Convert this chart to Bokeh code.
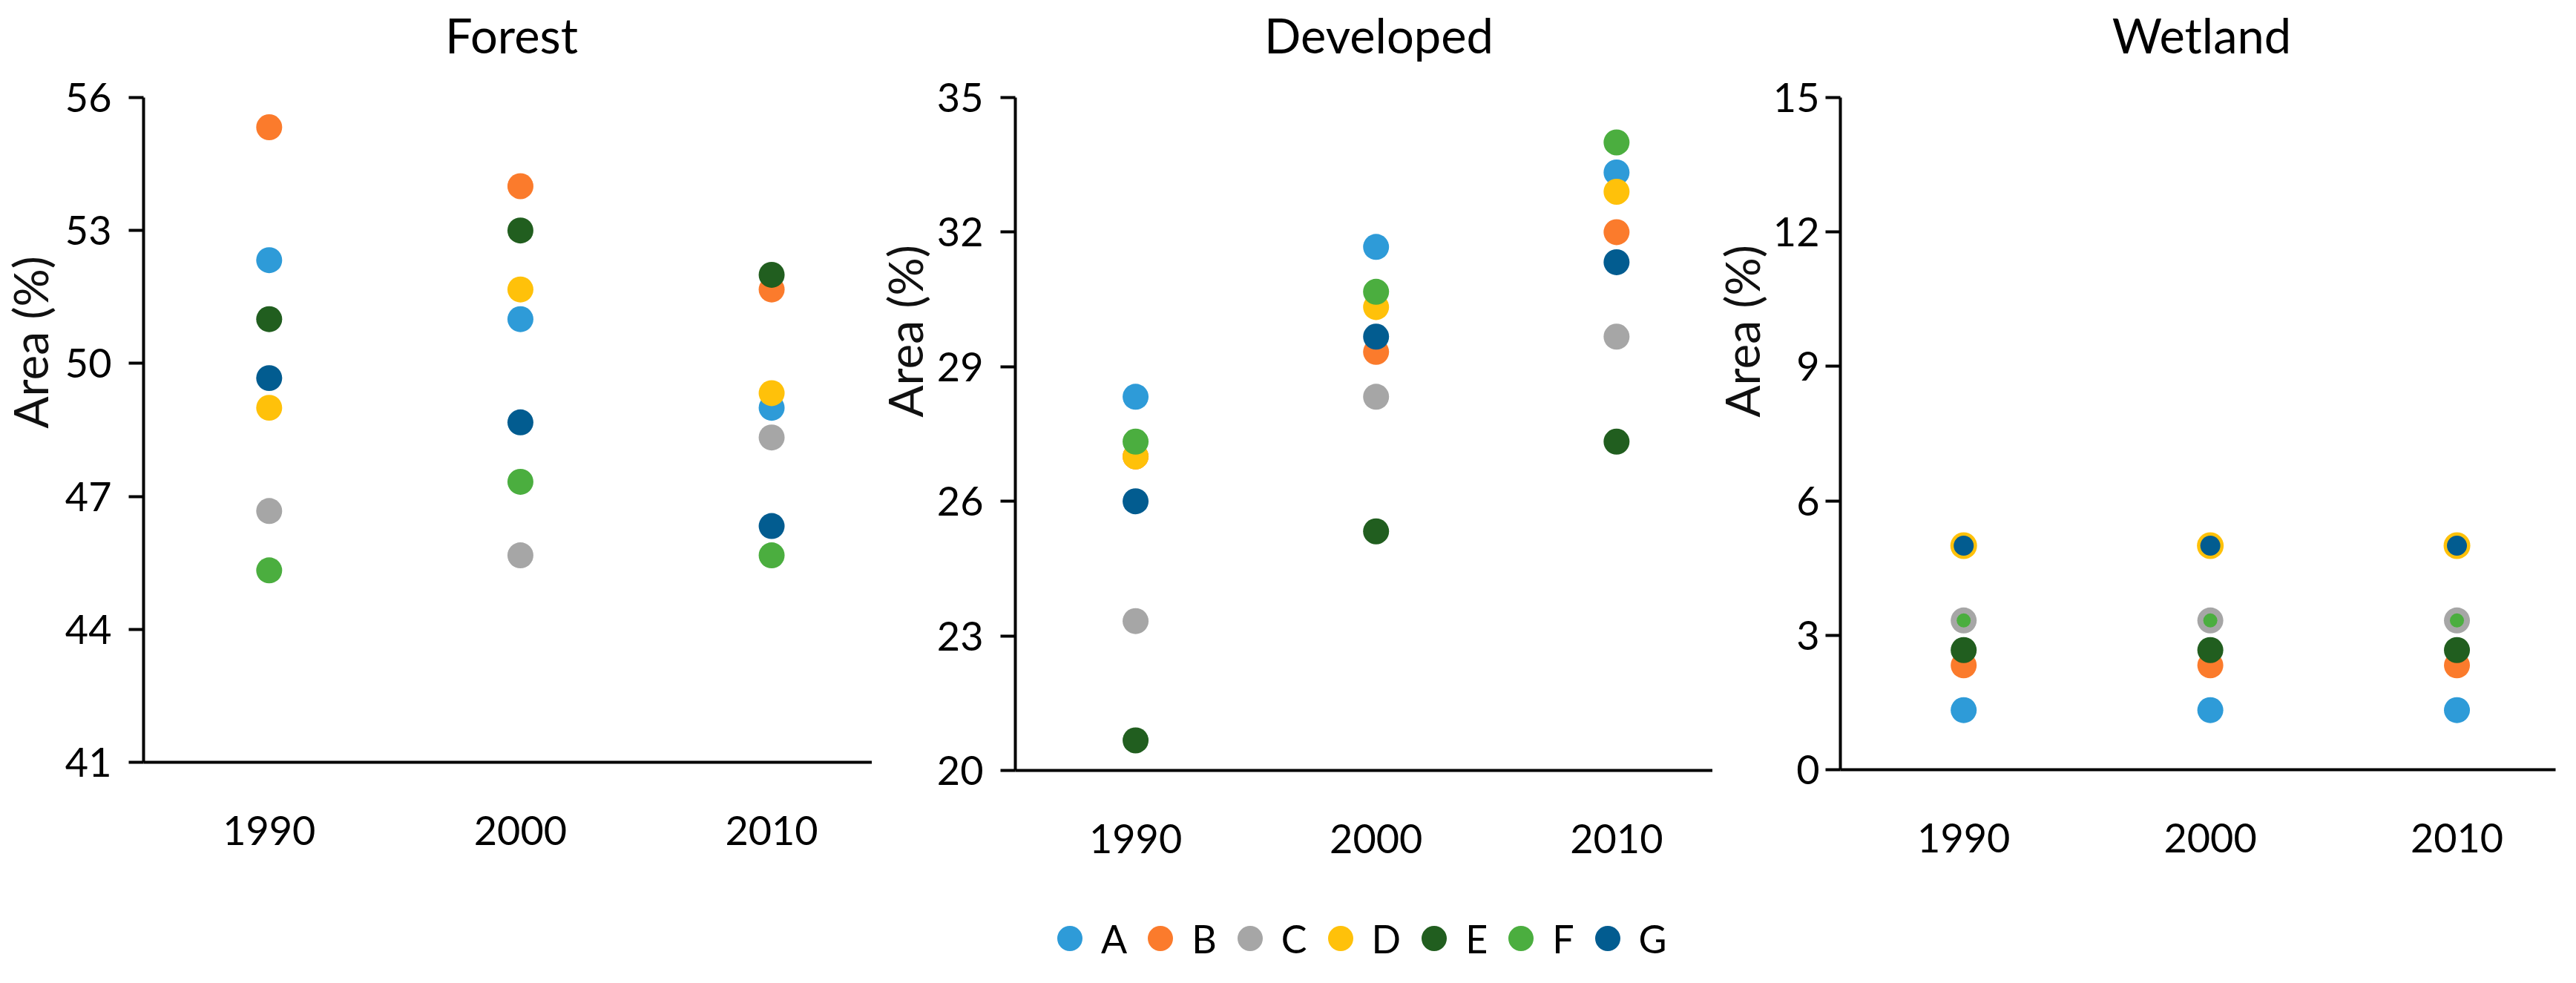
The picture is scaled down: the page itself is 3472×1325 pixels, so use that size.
import math
from bokeh.plotting import figure
from bokeh.models import Range1d, FixedTicker, Legend, LegendItem
from bokeh.layouts import row, column
from bokeh.core.properties import value
from bokeh.embed import file_html
from bokeh.resources import INLINE

# ---------------- data ----------------
years = [1990, 2000, 2010]
series = ["A", "B", "C", "D", "E", "F", "G"]
colors = ["#2E9BD8", "#FB7B2C", "#A6A6A6", "#FFC10A", "#215E1F", "#4BAE3F", "#025C90"]

forest_A = [52.33, 51.0, 49.0]
forest_B = [55.33, 54.0, 51.67]
forest_C = [46.67, 45.67, 48.33]
forest_D = [49.0, 51.67, 49.33]
forest_E = [51.0, 53.0, 52.0]
forest_F = [45.33, 47.33, 45.67]
forest_G = [49.67, 48.67, 46.33]

developed_A = [28.33, 31.67, 33.33]
developed_B = [27.0, 29.33, 32.0]
developed_C = [23.33, 28.33, 29.67]
developed_D = [27.0, 30.33, 32.9]
developed_E = [20.67, 25.33, 27.33]
developed_F = [27.33, 30.67, 34.0]
developed_G = [26.0, 29.67, 31.33]

wetland_A = [1.33, 1.33, 1.33]
wetland_B = [2.33, 2.33, 2.33]
wetland_C = [3.33, 3.33, 3.33]
wetland_D = [5.0, 5.0, 5.0]
wetland_E = [2.67, 2.67, 2.67]
wetland_F = [3.33, 3.33, 3.33]
wetland_G = [5.0, 5.0, 5.0]

forest_ticks = [41, 44, 47, 50, 53, 56]
developed_ticks = [20, 23, 26, 29, 32, 35]
wetland_ticks = [0, 3, 6, 9, 12, 15]

titles = ["Forest", "Developed", "Wetland"]
y_label = "Area (%)"

# ---------------- layout / style ----------------
FONT = "Lato"
PAGE_W = 3456
TITLE_H = 86          # height of the title strip
PANEL_H = 1081        # height of each panel figure
LEGEND_H = 142
X0, X1 = 1985, 2014
BOTTOM = 140

panels = [
    dict(data=[forest_A, forest_B, forest_C, forest_D, forest_E, forest_F, forest_G],
         ticks=forest_ticks, fw=982, fh=896, top=45, left=106, right=0, ystand=23,
         lab_w=84, lab_x=40, lab_y=683, title_x=689, sizes=[35] * 7),
    dict(data=[developed_A, developed_B, developed_C, developed_D, developed_E, developed_F, developed_G],
         ticks=developed_ticks, fw=940, fh=907, top=34, left=106, right=0, ystand=23,
         lab_w=84, lab_x=44, lab_y=701, title_x=1858, sizes=[35] * 7),
    dict(data=[wetland_A, wetland_B, wetland_C, wetland_D, wetland_E, wetland_F, wetland_G],
         ticks=wetland_ticks, fw=964, fh=906, top=35, left=91, right=20, ystand=8,
         lab_w=78, lab_x=39, lab_y=701, title_x=2967, sizes=[35, 35, 35, 36, 35, 19, 27]),
]


def blank(width, height, xr, yr):
    f = figure(width=width, height=height, min_border=0, output_backend="svg",
               toolbar_location=None, x_range=Range1d(*xr), y_range=Range1d(*yr),
               x_axis_location=None, y_axis_location=None)
    f.grid.visible = False
    f.outline_line_color = None
    return f


# ---- title strip ----
tstrip = blank(PAGE_W, TITLE_H, (0, PAGE_W), (0, TITLE_H))
tstrip.text(x=[c["title_x"] for c in panels], y=[40] * 3, text=titles,
            text_align="center", text_baseline="alphabetic",
            text_font=value(FONT), text_font_size=value("65px"), text_color="#000000")

# ---- panels ----
row_items = []
for cfg in panels:
    lab = blank(cfg["lab_w"], PANEL_H, (0, cfg["lab_w"]), (0, PANEL_H))
    lab.text(x=[cfg["lab_x"]], y=[cfg["lab_y"]], text=[y_label], angle=math.pi / 2,
             text_align="center", text_baseline="middle",
             text_font=value(FONT), text_font_size=value("64px"), text_color="#111111")
    row_items.append(lab)

    y0, y1 = cfg["ticks"][0], cfg["ticks"][-1]
    p = figure(frame_width=cfg["fw"], frame_height=cfg["fh"],
               x_range=Range1d(X0, X1), y_range=Range1d(y0, y1),
               output_backend="svg", toolbar_location=None,
               min_border_left=cfg["left"], min_border_right=cfg["right"],
               min_border_bottom=BOTTOM, min_border_top=cfg["top"])
    p.grid.visible = False
    p.outline_line_color = None
    p.background_fill_color = "white"
    p.border_fill_color = "white"

    for ax in (p.xaxis, p.yaxis):
        ax.axis_line_width = 4
        ax.axis_line_color = "#000000"
        ax.major_tick_line_width = 4
        ax.major_tick_line_color = "#000000"
        ax.minor_tick_line_color = None
        ax.major_tick_in = 0
        ax.major_label_text_font = FONT
        ax.major_label_text_font_size = "54px"
        ax.major_label_text_color = "#000000"

    p.xaxis.ticker = FixedTicker(ticks=years)
    p.xaxis.major_tick_out = 0
    p.xaxis.major_label_standoff = 72
    p.yaxis.ticker = FixedTicker(ticks=cfg["ticks"])
    p.yaxis.major_tick_out = 20
    p.yaxis.major_label_standoff = cfg["ystand"]

    for name, vals, col, sz in zip(series, cfg["data"], colors, cfg["sizes"]):
        p.scatter(x=years, y=vals, size=sz, fill_color=col, line_color=None, marker="circle")
    row_items.append(p)

# ---- legend strip ----
leg = blank(PAGE_W, LEGEND_H, (0, 1), (0, 1))
items = []
for name, col in zip(series, colors):
    r = leg.scatter(x=[-5], y=[-5], size=34, fill_color=col, line_color=None, marker="circle")
    items.append(LegendItem(label=name, renderers=[r]))
legend = Legend(items=items, orientation="horizontal", location=(1399, 2),
                glyph_width=85, glyph_height=85, label_standoff=0, spacing=2,
                padding=0, margin=0, border_line_color=None, background_fill_alpha=0,
                label_text_font=FONT, label_text_font_size="52px", label_text_color="#000000",
                label_text_baseline="middle")
leg.add_layout(legend)

layout = column(tstrip, row(*row_items), leg)
open("out.html", "w").write(file_html(layout, INLINE))
